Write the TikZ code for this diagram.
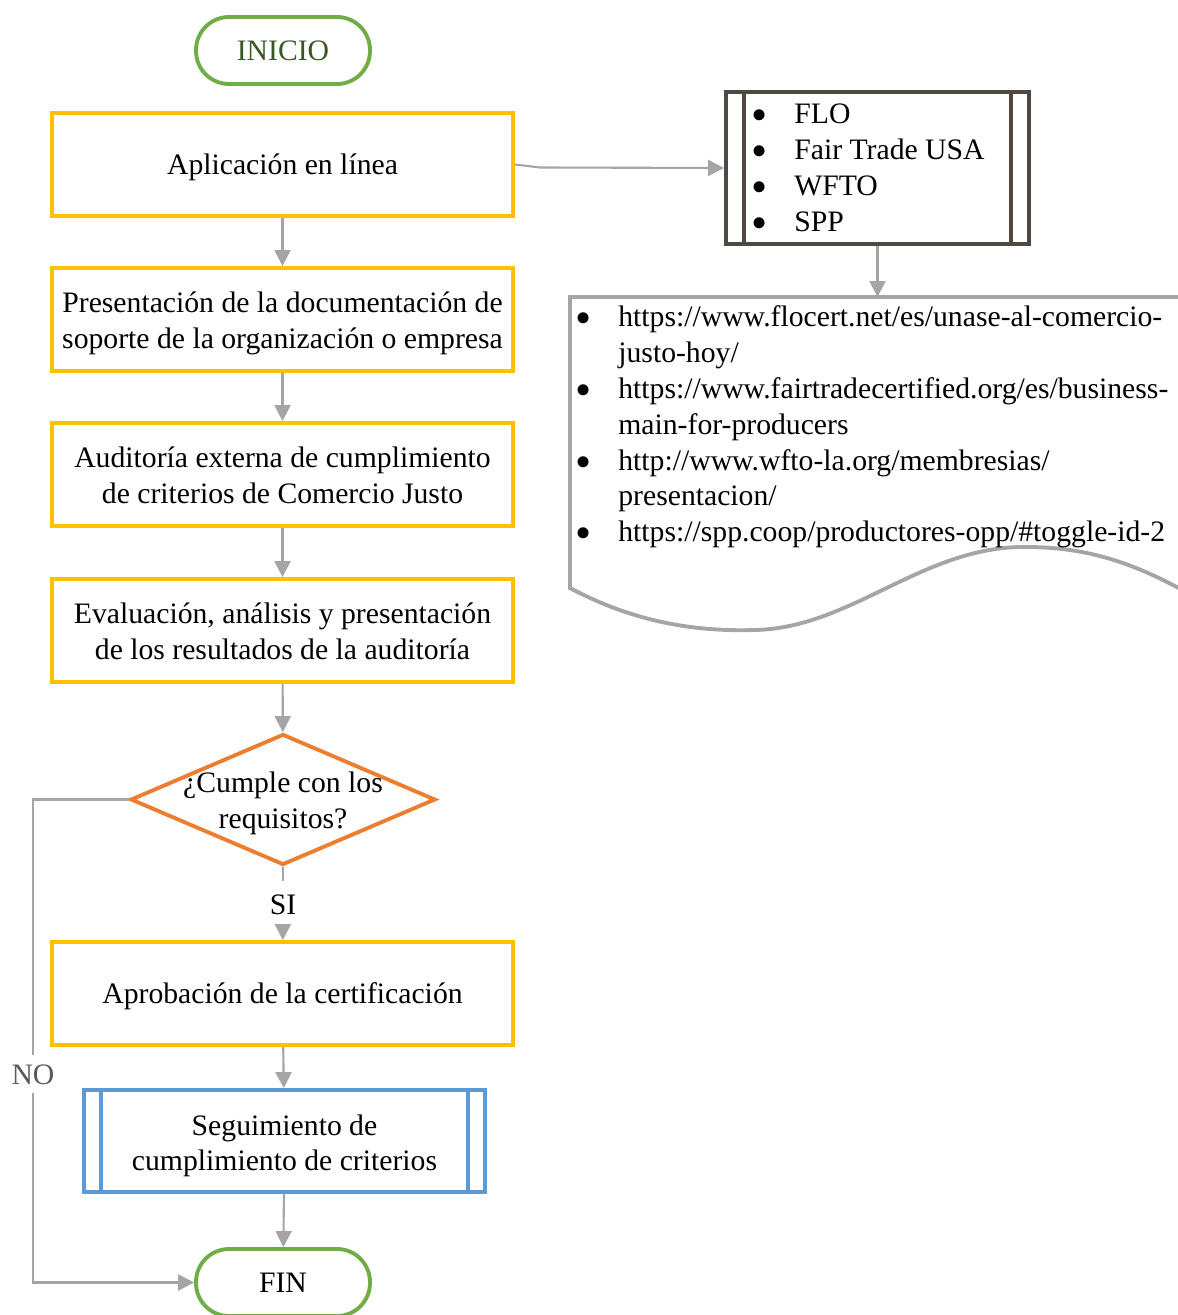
\documentclass[tikz,border=0pt]{standalone}
\usepackage{fontspec}
\setmainfont{Liberation Serif}
\usetikzlibrary{arrows.meta,shapes.geometric}
\definecolor{verde}{RGB}{112,173,71}
\definecolor{verdeosc}{RGB}{56,87,35}
\definecolor{amarillo}{RGB}{255,192,0}
\definecolor{naranja}{RGB}{237,125,49}
\definecolor{azul}{RGB}{91,155,213}
\definecolor{pardo}{RGB}{80,72,66}
\definecolor{gris}{RGB}{165,165,165}
\definecolor{grisosc}{RGB}{89,89,89}
\newcommand{\diagfont}{\fontsize{16.9}{20.4}\selectfont}
\newcommand{\lstrut}{\rule[-0.216em]{0pt}{1.107em}}
\newcommand{\itm}{\makebox[0.86cm][l]{\smash{\raisebox{-0.24em}{\scalebox{1.55}{\textbullet}}}}}

\begin{document}
\begin{tikzpicture}[x=0.02cm,y=-0.02cm,>={Triangle[length=0.32cm,width=0.32cm]},
  every node/.style={font=\diagfont,execute at begin node=\lstrut,execute at end node=\lstrut},
  terminal/.style={draw=verde,line width=2.2pt,rounded corners=0.66cm,minimum width=3.48cm,minimum height=1.34cm},
  paso/.style={draw=amarillo,line width=2.2pt,minimum width=9.22cm,minimum height=2.06cm,align=center,inner sep=2pt},
  doslineas/.style={text height=36.6pt},
  decision/.style={draw=naranja,line width=2.2pt,diamond,minimum width=6.1cm,minimum height=2.62cm,inner sep=0pt},
  conn/.style={draw=gris,line width=1.2pt}]
\useasboundingbox (0,0) rectangle (1177,1315);

% flujo principal
\node[terminal,text=verdeosc] (inicio) at (283,50.5) {INICIO};
\node[paso] (aplic) at (282.5,164.5) {Aplicación en línea};
\node[paso,doslineas] (present) at (282.5,319.5) {Presentación de la documentación de\\soporte de la organización o empresa};
\node[paso,doslineas] (audit) at (282.5,474.5) {Auditoría externa de cumplimiento\\de criterios de Comercio Justo};
\node[paso,doslineas] (eval) at (282.5,630.5) {Evaluación, análisis y presentación\\de los resultados de la auditoría};
\node[decision] (cumple) at (283,799.5) {};
\node[align=center] (pregunta) at (283,803.5) {¿Cumple con los\\requisitos?};
\node (si) at (283,904) {SI};
\node[paso] (aprob) at (282.5,993.5) {Aprobación de la certificación};
\node[draw=azul,line width=2.2pt,minimum width=8.02cm,minimum height=2.04cm,align=center,text height=37.7pt] (seguim) at (284.5,1141) {Seguimiento de\\cumplimiento de criterios};
\draw[azul,line width=2.2pt] ([xshift=0.38cm]seguim.north west) -- ([xshift=0.38cm]seguim.south west);
\draw[azul,line width=2.2pt] ([xshift=-0.38cm]seguim.north east) -- ([xshift=-0.38cm]seguim.south east);
\node[terminal] (fin) at (283,1282.5) {FIN};
\node[text=grisosc,fill=white,inner sep=1pt] (no) at (33,1074) {NO};

% organismos
\node[draw=pardo,line width=2.2pt,minimum width=6.06cm,minimum height=3.04cm] (lista) at (877.5,168) {};
\draw[pardo,line width=2.2pt] ([xshift=0.4cm]lista.north west) -- ([xshift=0.4cm]lista.south west);
\draw[pardo,line width=2.2pt] ([xshift=-0.4cm]lista.north east) -- ([xshift=-0.4cm]lista.south east);
\node[anchor=west,align=left,inner sep=0pt] (orgs) at (751,171) {\itm FLO\\\itm Fair Trade USA\\\itm WFTO\\\itm SPP};

% documento con enlaces
\draw[gris,line width=2.2pt] (1200,297) -- (570,297) -- (570,588)
  .. controls (630,620) and (690,632) .. (755,630)
  .. controls (850,628) and (920,549) .. (1020,547)
  .. controls (1090,546) and (1140,565) .. (1200,600);
\coordinate (doctop) at (877.5,297);
\node[anchor=west,align=left,inner sep=0pt] (urls) at (575,427) {\itm https://www.flocert.net/es/unase-al-comercio-\\\hspace*{0.86cm}justo-hoy/\\\itm https://www.fairtradecertified.org/es/business-\\\hspace*{0.86cm}main-for-producers\\\itm http://www.wfto-la.org/membresias/\\\hspace*{0.86cm}presentacion/\\\itm https://spp.coop/productores-opp/\#toggle-id-2};

% conectores
\draw[conn,->] (aplic) -- (present);
\draw[conn,->] (present) -- (audit);
\draw[conn,->] (audit) -- (eval);
\draw[conn,->] (eval) -- (cumple);
\draw[conn] (cumple) -- (si);
\draw[conn,->] (si) -- (aprob);
\draw[conn,->] (aprob) -- (seguim);
\draw[conn,->] (seguim) -- (fin);
\draw[conn] (cumple.west) -| (no.north);
\draw[conn,->] (no.south) |- (fin.west);
\draw[conn,->] (aplic.east) -- ++(25,3) -- (lista.west);
\draw[conn,->] (lista.south) -- (doctop);
\end{tikzpicture}
\end{document}
